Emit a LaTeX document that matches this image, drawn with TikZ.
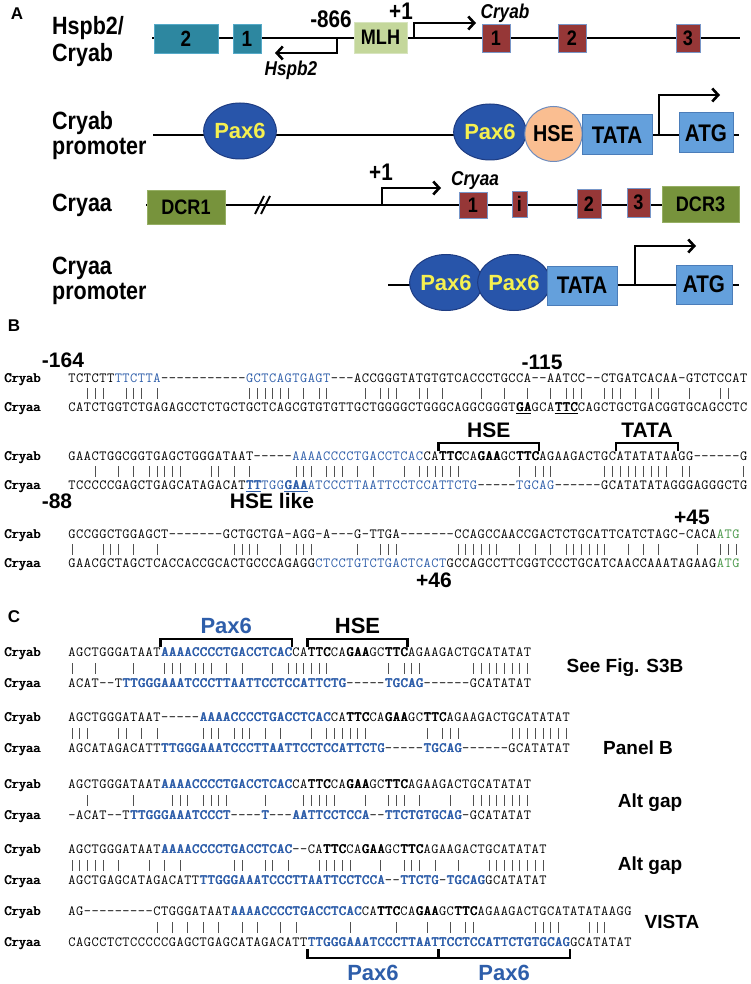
\documentclass[tikz,border=0pt]{standalone}
\usepackage{fontspec}
\setmainfont{Liberation Sans}
\newfontfamily\condfont{Liberation Sans}[FakeStretch=0.86]
\usetikzlibrary{arrows.meta,shapes.geometric}
\definecolor{seqblue}{RGB}{46,94,170}
\definecolor{seqgreen}{RGB}{70,150,70}
\definecolor{bargray}{RGB}{80,80,80}
\definecolor{cTeal}{RGB}{45,135,160}
\definecolor{cTealB}{RGB}{85,170,200}
\definecolor{cEx}{RGB}{150,55,55}
\definecolor{cExB}{RGB}{120,150,200}
\definecolor{cMlh}{RGB}{196,215,155}
\definecolor{cMlhB}{RGB}{215,228,190}
\definecolor{cDcr}{RGB}{119,147,60}
\definecolor{cDcrB}{RGB}{150,175,100}
\definecolor{cPax}{RGB}{40,85,170}
\definecolor{cPaxB}{RGB}{30,60,130}
\definecolor{cPaxT}{RGB}{245,240,80}
\definecolor{cHse}{RGB}{250,190,145}
\definecolor{cHseB}{RGB}{110,140,190}
\definecolor{cTata}{RGB}{100,160,220}
\definecolor{cTataB}{RGB}{75,125,185}
\newcommand\fsz[1]{\fontsize{#1}{#1}\selectfont}
\newcommand\sqfont{\fontsize{14}{14}\selectfont\ttfamily}
\newcommand\pmbold[1]{\rlap{#1}\kern0.35pt\rlap{#1}\kern0.35pt#1\kern-0.7pt}
\newcommand\sqbarglyph{\textcolor{bargray}{\rule[-1.5pt]{0.8pt}{11pt}}}
\newcommand\sBl[1]{\textcolor{seqblue}{#1}}
\newcommand\sBb[1]{\textcolor{seqblue}{\pmbold{#1}}}
\newcommand\sKb[1]{\pmbold{#1}}
\newcommand\sUb[1]{\textcolor{seqblue}{\underline{\pmbold{#1}}}}
\newcommand\sUk[1]{\underline{\pmbold{#1}}}
\newcommand\sGr[1]{\textcolor{seqgreen}{#1}}
\ExplSyntaxOn
\dim_new:N \l_sq_cw_dim
\dim_set:Nn \l_sq_cw_dim { 7.72pt }
\tl_new:N \l_sq_style_tl
\bool_new:N \l_sq_pending_bool
\tl_new:N \g_sq_a_tl
\tl_new:N \g_sq_b_tl
\tl_new:N \l_sq_x_tl
\tl_new:N \l_sq_y_tl
\cs_new_protected:Npn \sq_box:n #1 { \makebox [ \l_sq_cw_dim ] {#1} }
\cs_new_protected:Npn \sq_render:n #1
  {
    \bool_set_false:N \l_sq_pending_bool
    \tl_map_inline:nn {#1}
      {
        \bool_if:NTF \l_sq_pending_bool
          {
            \bool_set_false:N \l_sq_pending_bool
            \tl_map_inline:nn {##1} { \l_sq_style_tl { \sq_box:n {####1} } }
          }
          {
            \tl_if_single_token:nTF {##1}
              {
                \token_if_cs:NTF ##1
                  { \tl_set:Nn \l_sq_style_tl {##1} \bool_set_true:N \l_sq_pending_bool }
                  { \sq_box:n {##1} }
              }
              { \tl_map_inline:nn {##1} { \sq_box:n {####1} } }
          }
      }
  }
\cs_new_protected:Npn \seqtext #1
  { \group_begin: \sqfont \exp_args:No \sq_render:n {#1} \group_end: }
\cs_new_protected:Npn \sq_plain:Nn #1#2
  {
    \group_begin:
      \cs_set_eq:NN \sBl \use:n
      \cs_set_eq:NN \sBb \use:n
      \cs_set_eq:NN \sKb \use:n
      \cs_set_eq:NN \sUb \use:n
      \cs_set_eq:NN \sUk \use:n
      \cs_set_eq:NN \sGr \use:n
      \tl_gset:Nx #1 {#2}
    \group_end:
  }
\cs_new_protected:Npn \seqbars #1#2
  {
    \group_begin:
    \sq_plain:Nn \g_sq_a_tl {#1}
    \sq_plain:Nn \g_sq_b_tl {#2}
    \int_step_inline:nn { \tl_count:N \g_sq_a_tl }
      {
        \tl_set:Nx \l_sq_x_tl { \tl_item:Nn \g_sq_a_tl {##1} }
        \tl_set:Nx \l_sq_y_tl { \tl_item:Nn \g_sq_b_tl {##1} }
        \tl_if_eq:NNTF \l_sq_x_tl \l_sq_y_tl
          {
            \str_if_eq:VnTF \l_sq_x_tl { - }
              { \sq_box:n { } }
              { \sq_box:n { \sqbarglyph } }
          }
          { \sq_box:n { } }
      }
    \group_end:
  }
\ExplSyntaxOff
% Panel B sequences
\def\BoneA{TCTCTT\sBl{TTCTTA}-----------\sBl{GCTCAGTGAGT}---ACCGGGTATGTGTCACCCTGCCA--AATCC--CTGATCACAA-GTCTCCAT}
\def\BoneB{CATCTGGTCTGAGAGCCTCTGCTGCTCAGCGTGTGTTGCTGGGGCTGGGCAGGCGGGT\sUk{GA}GCA\sUk{TTC}CAGCTGCTGACGGTGCAGCCTC}
\def\BtwoA{GAACTGGCGGTGAGCTGGGATAAT-----\sBl{AAAACCCCTGACCTCAC}CA\sKb{TTC}CA\sKb{GAA}GC\sKb{TTC}AGAAGACTGCATATATAAGG------G}
\def\BtwoB{TCCCCCGAGCTGAGCATAGACAT\sUb{TT}\sBl{TGG}\sUb{GAA}\sBl{ATCCCTTAATTCCTCCATTCTG}-----\sBl{TGCAG}------GCATATATAGGGAGGGCTG}
\def\BthrA{GCCGGCTGGAGCT-------GCTGCTGA-AGG-A---G-TTGA-------CCAGCCAACCGACTCTGCATTCATCTAGC-CACA\sGr{ATG}}
\def\BthrB{GAACGCTAGCTCACCACCGCACTGCCCAGAGG\sBl{CTCCTGTCTGACTCACT}GCCAGCCTTCGGTCCCTGCATCAACCAAATAGAAG\sGr{ATG}}
% Panel C sequences
\def\ConeA{AGCTGGGATAAT\sBb{AAAACCCCTGACCTCAC}CA\sKb{TTC}CA\sKb{GAA}GC\sKb{TTC}AGAAGACTGCATATAT}
\def\ConeB{ACAT--T\sBb{TTGGGAAATCCCTTAATTCCTCCATTCTG}-----\sBb{TGCAG}------GCATATAT}
\def\CtwoA{AGCTGGGATAAT-----\sBb{AAAACCCCTGACCTCAC}CA\sKb{TTC}CA\sKb{GAA}GC\sKb{TTC}AGAAGACTGCATATAT}
\def\CtwoB{AGCATAGACATT\sBb{TTGGGAAATCCCTTAATTCCTCCATTCTG}-----\sBb{TGCAG}------GCATATAT}
\def\CthrA{AGCTGGGATAAT\sBb{AAAACCCCTGACCTCAC}CA\sKb{TTC}CA\sKb{GAA}GC\sKb{TTC}AGAAGACTGCATATAT}
\def\CthrB{-ACAT--T\sBb{TTGGGAAATCCCT}----\sBb{T}---\sBb{AATTCCTCCA}--\sBb{TTCTGTGCAG}-GCATATAT}
\def\CfouA{AGCTGGGATAAT\sBb{AAAACCCCTGACCTCAC}--CA\sKb{TTC}CA\sKb{GAA}GC\sKb{TTC}AGAAGACTGCATATAT}
\def\CfouB{AGCTGAGCATAGACATT\sBb{TTGGGAAATCCCTTAATTCCTCCA}--\sBb{TTCTG}-\sBb{TGCAG}GCATATAT}
\def\CfivA{AG---------CTGGGATAAT\sBb{AAAACCCCTGACCTCAC}CA\sKb{TTC}CA\sKb{GAA}GC\sKb{TTC}AGAAGACTGCATATATAAGG}
\def\CfivB{CAGCCTCTCCCCCGAGCTGAGCATAGACATT\sBb{TTGGGAAATCCCTTAATTCCTCCATTCTGTGCAG}GCATATAT}
\begin{document}
\begin{tikzpicture}[x=1pt,y=-1pt,
  plab/.style={font=\bfseries\fsz{17}, inner sep=0pt},
  glab/.style={anchor=west, inner sep=0pt, font=\condfont\bfseries\fsz{25}},
  numA/.style={inner sep=0pt, font=\condfont\bfseries\fsz{24}},
  itA/.style={inner sep=0pt, font=\condfont\bfseries\itshape\fsz{20}},
  gline/.style={line width=2.6pt},
  tss/.style={line width=2.6pt, -{Straight Barb[length=6pt,width=13pt]}},
  tealbox/.style={draw=cTealB, fill=cTeal, line width=0.8pt, inner sep=0pt, font=\condfont\bfseries\fsz{22}},
  exon/.style={draw=cExB, fill=cEx, line width=0.8pt, inner sep=0pt, font=\condfont\bfseries\fsz{21}},
  mlhbox/.style={draw=cMlhB, fill=cMlh, line width=0.8pt, inner sep=0pt, font=\condfont\bfseries\fsz{21}},
  dcrbox/.style={draw=cDcrB, fill=cDcr, line width=0.8pt, inner sep=0pt, font=\condfont\bfseries\fsz{21}},
  paxe/.style={ellipse, draw=cPaxB, fill=cPax, line width=1pt, inner sep=0pt, text=cPaxT, font=\bfseries\fsz{22}},
  hsee/.style={ellipse, draw=cHseB, fill=cHse, line width=1pt, inner sep=0pt, font=\condfont\bfseries\fsz{23}},
  tatab/.style={draw=cTataB, fill=cTata, line width=1pt, inner sep=0pt, font=\condfont\bfseries\fsz{24}},
  seq/.style={anchor=west, inner sep=0pt, text height=9pt, text depth=0pt},
  bars/.style={anchor=west, inner sep=0pt, text height=9.5pt, text depth=1.5pt},
  mlab/.style={anchor=west, inner sep=0pt, font=\sqfont, text height=9pt, text depth=0pt},
  num/.style={inner sep=0pt, font=\bfseries\fsz{21}},
  side/.style={inner sep=0pt, font=\bfseries\fsz{19}},
  brk/.style={line width=2.4pt, line join=miter}
]
\useasboundingbox (0,0) rectangle (750,984);
\fill[white] (0,0) rectangle (750,984);

% ================= Panel A =================
\node[plab] (pA) at (17,14) {A};
% Row 1
\node[glab] (l1a) at (52,28) {Hspb2/};
\node[glab] (l1b) at (52,55) {Cryab};
\coordinate (r1s) at (152,38);
\coordinate (r1e) at (740,38);
\draw[gline] (r1s) -- (r1e);
\coordinate (hs0) at (337,38);
\coordinate (hs1) at (275,53);
\draw[tss] (hs0) |- (hs1);
\coordinate (cs0) at (414,38);
\coordinate (cs1) at (476,23);
\draw[tss] (cs0) |- (cs1);
\node[tealbox, minimum width=64pt, minimum height=29pt] (h2) at (186,38.5) {2};
\node[tealbox, minimum width=28pt, minimum height=29pt] (h1) at (247,38.5) {1};
\node[mlhbox, minimum width=53pt, minimum height=31pt] (mlh) at (380.5,37.5) {MLH};
\node[exon, minimum width=28pt, minimum height=28pt] (e1) at (496,38) {1};
\node[exon, minimum width=28pt, minimum height=28pt] (e2) at (572,38) {2};
\node[exon, minimum width=24pt, minimum height=28pt] (e3) at (688,38) {3};
\node[numA] (n866) at (331,19) {-866};
\node[numA] (np1a) at (401,11) {+1};
\node[itA] (tcryab) at (505,13) {Cryab};
\node[itA] (thspb2) at (291,70) {Hspb2};

% Row 2
\node[glab] (l2a) at (52,123) {Cryab};
\node[glab] (l2b) at (52,149) {promoter};
\coordinate (r2s) at (153,135);
\coordinate (r2e) at (739,135);
\draw[gline] (r2s) -- (r2e);
\coordinate (a2s) at (659,135);
\coordinate (a2e) at (720,95);
\draw[tss] (a2s) |- (a2e);
\node[paxe, minimum width=69pt, minimum height=56pt] (pax1) at (240,131) {Pax6};
\node[paxe, minimum width=69pt, minimum height=56pt] (pax2) at (490,132) {Pax6};
\node[hsee, minimum width=53pt, minimum height=55pt] (hse1) at (553.5,134) {HSE};
\node[tatab, minimum width=70pt, minimum height=40pt] (tata1) at (617,135) {TATA};
\node[tatab, minimum width=54pt, minimum height=40pt] (atg1) at (706,133) {ATG};

% Row 3
\node[glab] (l3a) at (52,205) {Cryaa};
\coordinate (r3s) at (146,205);
\coordinate (r3e) at (739,205);
\draw[gline] (r3s) -- (r3e);
\draw[line width=1.8pt] (255,214) -- (264,196);
\draw[line width=1.8pt] (261,214) -- (270,196);
\coordinate (a3s) at (382,205);
\coordinate (a3e) at (441,188);
\draw[tss] (a3s) |- (a3e);
\node[dcrbox, minimum width=78pt, minimum height=34pt] (dcr1) at (186,207) {DCR1};
\node[exon, minimum width=28pt, minimum height=26pt] (x1) at (473,205.5) {1};
\node[exon, minimum width=15pt, minimum height=26pt] (xi) at (519.5,204) {i};
\node[exon, minimum width=24pt, minimum height=29pt] (x2) at (589,204) {2};
\node[exon, minimum width=23pt, minimum height=29pt] (x3) at (638.5,202.5) {3};
\node[dcrbox, minimum width=77pt, minimum height=36pt] (dcr3) at (700.5,204) {DCR3};
\node[numA] (np1b) at (381,172) {+1};
\node[itA] (tcryaa) at (475,181) {Cryaa};

% Row 4
\node[glab] (l4a) at (52,268) {Cryaa};
\node[glab] (l4b) at (52,294) {promoter};
\coordinate (r4s) at (388,285);
\coordinate (r4e) at (739,285);
\draw[gline] (r4s) -- (r4e);
\coordinate (a4s) at (635,285);
\coordinate (a4e) at (696,246);
\draw[tss] (a4s) |- (a4e);
\node[paxe, minimum width=70pt, minimum height=56pt] (pax3) at (446,282.5) {Pax6};
\node[paxe, minimum width=66pt, minimum height=56pt] (pax4) at (514,282.5) {Pax6};
\node[tatab, minimum width=70pt, minimum height=39pt] (tata2) at (582,285.5) {TATA};
\node[tatab, minimum width=56pt, minimum height=39pt] (atg2) at (704,284.5) {ATG};

% ================= Panel B =================
\node[plab] (pB) at (14,326) {B};
\node[num] (m164) at (63,360) {-164};
\node[num] (m115) at (542,362) {-115};
\node[mlab] (b1al) at (4,378) {\pmbold{Cryab}};
\node[seq] (b1a) at (68,378) {\seqtext{\BoneA}};
\node[bars] (b1m) at (68,393) {\seqbars{\BoneA}{\BoneB}};
\node[mlab] (b1bl) at (4,407) {\pmbold{Cryaa}};
\node[seq] (b1b) at (68,407) {\seqtext{\BoneB}};

\node[num] (hseB) at ({68+54.5*7.72},430) {HSE};
\node[num] (tataB) at ({68+75*7.72},430) {TATA};
\coordinate (hb1) at ({68+48*7.72},451);
\coordinate (hb2) at ({68+61*7.72},451);
\draw[brk] (hb1) -- ++(0,-8) -| (hb2);
\coordinate (tb1) at ({68+71*7.72},451);
\coordinate (tb2) at ({68+79*7.72},451);
\draw[brk] (tb1) -- ++(0,-8) -| (tb2);

\node[mlab] (b2al) at (4,456) {\pmbold{Cryab}};
\node[seq] (b2a) at (68,456) {\seqtext{\BtwoA}};
\node[bars] (b2m) at (68,471) {\seqbars{\BtwoA}{\BtwoB}};
\node[mlab] (b2bl) at (4,485) {\pmbold{Cryaa}};
\node[seq] (b2b) at (68,485) {\seqtext{\BtwoB}};
\node[num] (m88) at (57,501) {-88};
\node[num] (hlike) at (272,501) {HSE like};

\node[num] (p45) at (692,517) {+45};
\node[mlab] (b3al) at (4,534) {\pmbold{Cryab}};
\node[seq] (b3a) at (68,534) {\seqtext{\BthrA}};
\node[bars] (b3m) at (68,549) {\seqbars{\BthrA}{\BthrB}};
\node[mlab] (b3bl) at (4,563) {\pmbold{Cryaa}};
\node[seq] (b3b) at (68,563) {\seqtext{\BthrB}};
\node[num] (p46) at (434,580) {+46};

% ================= Panel C =================
\node[plab] (pC) at (14,617) {C};
\node[num, text=seqblue, font=\bfseries\fsz{22}] (cpax) at ({68+20.5*7.72},626) {Pax6};
\node[num, font=\bfseries\fsz{22}] (chse) at ({68+37.5*7.72},626) {HSE};
\coordinate (pb1) at ({68+12*7.72},647);
\coordinate (pb2) at ({68+29*7.72},647);
\draw[brk] (pb1) -- ++(0,-8) -| (pb2);
\coordinate (sb1) at ({68+31*7.72},647);
\coordinate (sb2) at ({68+44*7.72},647);
\draw[brk] (sb1) -- ++(0,-8) -| (sb2);

\node[mlab] (c1al) at (4,652) {\pmbold{Cryab}};
\node[seq] (c1a) at (68,652) {\seqtext{\ConeA}};
\node[bars] (c1m) at (68,668) {\seqbars{\ConeA}{\ConeB}};
\node[mlab] (c1bl) at (4,683) {\pmbold{Cryaa}};
\node[seq] (c1b) at (68,683) {\seqtext{\ConeB}};
\node[side] (s1) at (625,668) {See Fig. S3B};

\node[mlab] (c2al) at (4,717) {\pmbold{Cryab}};
\node[seq] (c2a) at (68,717) {\seqtext{\CtwoA}};
\node[bars] (c2m) at (68,733) {\seqbars{\CtwoA}{\CtwoB}};
\node[mlab] (c2bl) at (4,748) {\pmbold{Cryaa}};
\node[seq] (c2b) at (68,748) {\seqtext{\CtwoB}};
\node[side] (s2) at (638,748) {Panel B};

\node[mlab] (c3al) at (4,784) {\pmbold{Cryab}};
\node[seq] (c3a) at (68,784) {\seqtext{\CthrA}};
\node[bars] (c3m) at (68,800) {\seqbars{\CthrA}{\CthrB}};
\node[mlab] (c3bl) at (4,815) {\pmbold{Cryaa}};
\node[seq] (c3b) at (68,815) {\seqtext{\CthrB}};
\node[side] (s3) at (650,803) {Alt gap};

\node[mlab] (c4al) at (4,849) {\pmbold{Cryab}};
\node[seq] (c4a) at (68,849) {\seqtext{\CfouA}};
\node[bars] (c4m) at (68,865) {\seqbars{\CfouA}{\CfouB}};
\node[mlab] (c4bl) at (4,880) {\pmbold{Cryaa}};
\node[seq] (c4b) at (68,880) {\seqtext{\CfouB}};
\node[side] (s4) at (650,866) {Alt gap};

\node[mlab] (c5al) at (4,911) {\pmbold{Cryab}};
\node[seq] (c5a) at (68,911) {\seqtext{\CfivA}};
\node[bars] (c5m) at (68,927) {\seqbars{\CfivA}{\CfivB}};
\node[mlab] (c5bl) at (4,942) {\pmbold{Cryaa}};
\node[seq] (c5b) at (68,942) {\seqtext{\CfivB}};
\node[side] (s5) at (672,922) {VISTA};

\coordinate (v1) at ({68+31*7.72},949);
\coordinate (v2) at ({68+48*7.72},949);
\coordinate (v3) at ({68+65*7.72},949);
\draw[brk] (v1) -- ++(0,9) -| (v3);
\draw[brk] (v2) -- ++(0,9);
\node[num, text=seqblue, font=\bfseries\fsz{22}] (vp1) at ({68+39.5*7.72},973) {Pax6};
\node[num, text=seqblue, font=\bfseries\fsz{22}] (vp2) at ({68+56.5*7.72},973) {Pax6};
\end{tikzpicture}
\end{document}
